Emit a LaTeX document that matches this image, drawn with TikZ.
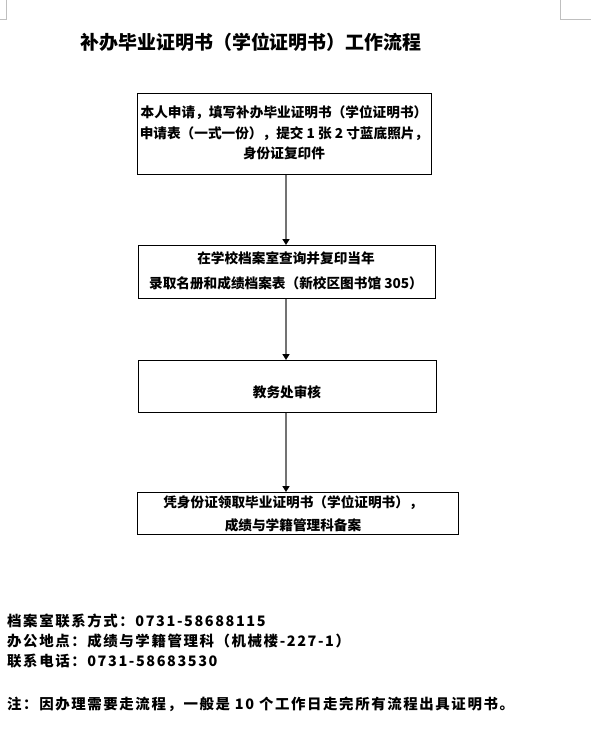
\documentclass[tikz,border=0pt]{standalone}
\usepackage{fontspec}
\setmainfont{Noto Sans CJK SC}
\usetikzlibrary{arrows.meta}
\begin{document}
\begin{tikzpicture}[x=1bp,y=-1bp,
  box/.style={draw=black,line width=0.8bp,inner sep=0pt,anchor=north west},
  txt/.style={font=\fontsize{13.7}{20.5}\selectfont\bfseries,align=center,inner sep=0pt},
  note/.style={font=\fontsize{14.5}{16}\selectfont\bfseries\addfontfeature{LetterSpace=11},anchor=west,inner sep=0pt},
  arr/.style={draw=black!55,line width=1.5bp,-{Triangle[length=6bp,width=7bp,color=black]}},
  cornermark/.style={draw=black!25,line width=0.8bp}]
\useasboundingbox (0,0) rectangle (591,746);
% page corner marks
\coordinate (cl1) at (6,0); \coordinate (cl2) at (6,19); \coordinate (cl3) at (0,19);
\coordinate (cr1) at (560,0); \coordinate (cr2) at (560,19); \coordinate (cr3) at (591,19);
\draw[cornermark] (cl1) -- (cl2) -- (cl3);
\draw[cornermark] (cr1) -- (cr2) -- (cr3);
% title
\node[font=\fontsize{19}{20}\selectfont\bfseries,inner sep=0pt] (title) at (251,42) {补办毕业证明书（学位证明书）工作流程};
% boxes
\node[box,minimum width=294bp,minimum height=81bp] (b1) at (137,93) {};
\node[box,minimum width=297bp,minimum height=53bp] (b2) at (138,245) {};
\node[box,minimum width=298bp,minimum height=52bp] (b3) at (138,360) {};
\node[box,minimum width=321bp,minimum height=42bp] (b4) at (137,492) {};
% box texts
\node[txt] (t1) at (284,133) {本人申请，填写补办毕业证明书（学位证明书）\\申请表（一式一份），提交 1 张 2 寸蓝底照片，\\身份证复印件};
\node[txt,font=\fontsize{13.7}{25}\selectfont\bfseries] (t2) at (286,271) {在学校档案室查询并复印当年\\录取名册和成绩档案表（新校区图书馆 305）};
\node[txt] (t3) at (287,392) {教务处审核};
\node[txt,font=\fontsize{13.7}{23}\selectfont\bfseries] (t4) at (293,513.5) {凭身份证领取毕业证明书（学位证明书），\\成绩与学籍管理科备案};
% connectors
\coordinate (ax) at (286,0);
\draw[arr] (b1.south -| ax) -- (b2.north -| ax);
\draw[arr] (b2.south -| ax) -- (b3.north -| ax);
\draw[arr] (b3.south -| ax) -- (b4.north -| ax);
% bottom notes
\node[note] (n1) at (7,621) {档案室联系方式：0731-58688115};
\node[note] (n2) at (7,641) {办公地点：成绩与学籍管理科（机械楼-227-1）};
\node[note] (n3) at (7,661) {联系电话：0731-58683530};
\node[note] (n4) at (7,704) {注：因办理需要走流程，一般是 10 个工作日走完所有流程出具证明书。};
\end{tikzpicture}
\end{document}
